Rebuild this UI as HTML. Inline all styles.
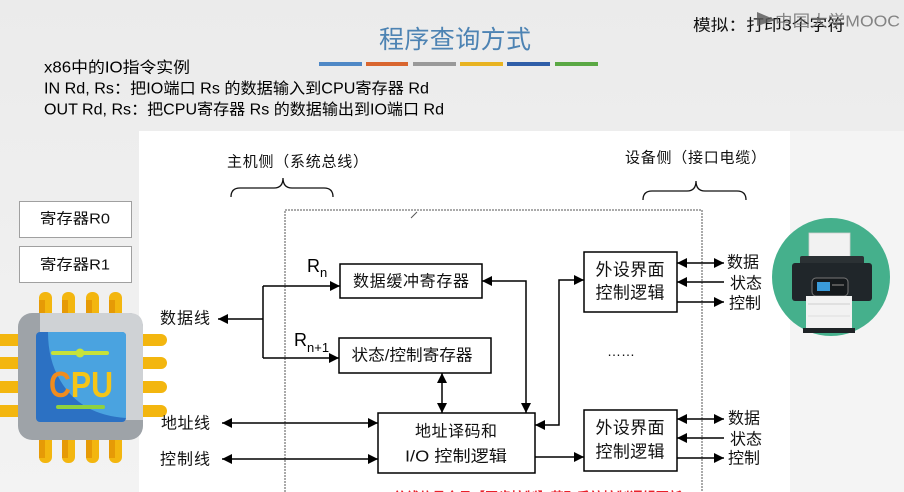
<!DOCTYPE html>
<html><head><meta charset="utf-8">
<style>
html,body{margin:0;padding:0;}
body{width:904px;height:492px;overflow:hidden;background:#eeeeee;}
svg{display:block;font-family:"Liberation Sans","Noto Sans CJK SC",sans-serif;}
</style></head>
<body>
<svg width="904" height="492" viewBox="0 0 904 492" xmlns="http://www.w3.org/2000/svg">
<defs>
<linearGradient id="bg" x1="0" y1="0" x2="0" y2="1">
<stop offset="0" stop-color="#ebebeb"/><stop offset="1" stop-color="#f3f3f3"/>
</linearGradient>
<marker id="ah" viewBox="0 0 10 10" refX="10" refY="5" markerWidth="11" markerHeight="10" markerUnits="userSpaceOnUse" orient="auto-start-reverse">
<path d="M0,0 L10,5 L0,10 z" fill="#000"/>
</marker>
</defs>
<rect x="0" y="0" width="904" height="492" fill="url(#bg)"/>
<rect x="790" y="131" width="114" height="361" fill="#f4f4f4"/>
<rect x="139" y="131" width="651" height="361" fill="#ffffff"/>

<!-- Title -->
<text x="455" y="40" font-size="25" fill="#4d83b3" text-anchor="middle" dominant-baseline="central" textLength="152">程序查询方式</text>
<rect x="319" y="62" width="43" height="4" fill="#4f88c6"/>
<rect x="366" y="62" width="42" height="4" fill="#d9662f"/>
<rect x="413" y="62" width="43" height="4" fill="#999999"/>
<rect x="460" y="62" width="43" height="4" fill="#e8b321"/>
<rect x="507" y="62" width="43" height="4" fill="#2f5ea8"/>
<rect x="555" y="62" width="43" height="4" fill="#5aa844"/>

<!-- watermark -->
<text x="693" y="26" font-size="16" fill="#111" dominant-baseline="central" textLength="152" lengthAdjust="spacingAndGlyphs">模拟：打印3个字符</text>
<path d="M757,12 L776,20 L757,26 z" fill="#555" opacity="0.8"/>
<text x="775" y="22" font-size="16" fill="#6a6a6a" opacity="0.8" dominant-baseline="central" textLength="125" lengthAdjust="spacingAndGlyphs">中国大学MOOC</text>

<!-- top-left text -->
<g font-size="15.5" fill="#000" dominant-baseline="central">
<text x="44" y="68" textLength="146" lengthAdjust="spacingAndGlyphs">x86中的IO指令实例</text>
<text x="44" y="89" textLength="385" lengthAdjust="spacingAndGlyphs">IN Rd, Rs：把IO端口 Rs 的数据输入到CPU寄存器 Rd</text>
<text x="44" y="110" textLength="400" lengthAdjust="spacingAndGlyphs">OUT Rd, Rs：把CPU寄存器 Rs 的数据输出到IO端口 Rd</text>
</g>

<!-- side labels -->
<g font-size="15" fill="#111" dominant-baseline="central">
<text x="227" y="162" textLength="141">主机侧（系统总线）</text>
<text x="625" y="158" textLength="141">设备侧（接口电缆）</text>
</g>
<path d="M231,197 Q231,188 240,188 L274,188 Q283,188 283,178 Q283,188 292,188 L324,188 Q333,188 333,197" fill="none" stroke="#111" stroke-width="1.3"/>
<path d="M643,200 Q643,191 652,191 L687,191 Q696,191 696,181 Q696,191 705,191 L737,191 Q746,191 746,200" fill="none" stroke="#111" stroke-width="1.3"/>

<!-- dashed box -->
<path d="M285,495 L285,210 L702,210 L702,495" fill="none" stroke="#555" stroke-width="1" stroke-dasharray="2,1"/>
<line x1="411" y1="218" x2="417" y2="212" stroke="#555" stroke-width="1"/>

<!-- register boxes -->
<rect x="19.5" y="201.5" width="112" height="36" fill="#fff" stroke="#a0a0a0" stroke-width="1"/>
<rect x="19.5" y="246.5" width="112" height="36" fill="#fff" stroke="#a0a0a0" stroke-width="1"/>
<g font-size="15" fill="#111" text-anchor="middle" dominant-baseline="central">
<text x="75" y="219" textLength="70" lengthAdjust="spacingAndGlyphs">寄存器R0</text>
<text x="75" y="265" textLength="70" lengthAdjust="spacingAndGlyphs">寄存器R1</text>
</g>

<!-- CPU -->
<g fill="#f3b60f">
<rect x="39" y="292" width="13" height="30" rx="6"/>
<rect x="62" y="292" width="13" height="30" rx="6"/>
<rect x="86" y="292" width="13" height="30" rx="6"/>
<rect x="109" y="292" width="13" height="30" rx="6"/>
<rect x="39" y="432" width="13" height="31" rx="6"/>
<rect x="62" y="432" width="13" height="31" rx="6"/>
<rect x="86" y="432" width="13" height="31" rx="6"/>
<rect x="109" y="432" width="13" height="31" rx="6"/>
<rect x="-6" y="334" width="30" height="12" rx="5"/>
<rect x="-6" y="357" width="30" height="12" rx="5"/>
<rect x="-6" y="381" width="30" height="12" rx="5"/>
<rect x="-6" y="405" width="30" height="12" rx="5"/>
<rect x="136" y="334" width="31" height="12" rx="6"/>
<rect x="136" y="357" width="31" height="12" rx="6"/>
<rect x="136" y="381" width="31" height="12" rx="6"/>
<rect x="136" y="405" width="31" height="12" rx="6"/>
</g>
<g fill="#e69a06">
<rect x="39" y="300" width="6" height="16"/><rect x="62" y="300" width="6" height="16"/><rect x="86" y="300" width="6" height="16"/><rect x="109" y="300" width="6" height="16"/>
<rect x="39" y="440" width="6" height="18"/><rect x="62" y="440" width="6" height="18"/><rect x="86" y="440" width="6" height="18"/><rect x="109" y="440" width="6" height="18"/>
</g>
<rect x="18" y="313" width="125" height="127" rx="14" fill="#9ea3a8"/>
<path d="M40,313 L129,313 Q143,313 143,327 L143,420 L40,420 z" fill="#cfd2d5"/>
<rect x="36" y="332" width="90" height="90" rx="4" fill="#2c71c3"/>
<path d="M48,332 L122,332 Q126,332 126,336 L126,418 Q80,415 60,380 Q48,360 48,332 z" fill="#4aa3e0"/>
<line x1="53" y1="353" x2="107" y2="353" stroke="#c6e23a" stroke-width="4" stroke-linecap="round"/>
<circle cx="80" cy="353" r="4.5" fill="#c6e23a"/>
<text x="81" y="384" font-size="36" font-weight="bold" text-anchor="middle" dominant-baseline="central" textLength="64" lengthAdjust="spacingAndGlyphs" font-family="Liberation Sans, sans-serif"><tspan fill="#f08c1e">C</tspan><tspan fill="#f5c518">PU</tspan></text>
<line x1="58" y1="407" x2="103" y2="407" stroke="#8fd13f" stroke-width="4" stroke-linecap="round"/>

<!-- bus labels -->
<g font-size="16" fill="#111" dominant-baseline="central">
<text x="160" y="319" textLength="50">数据线</text>
<text x="161" y="424" textLength="49">地址线</text>
<text x="160" y="460" textLength="50">控制线</text>
</g>

<!-- Rn labels -->
<text x="307" y="272" font-size="18" fill="#000">R<tspan font-size="13" dy="5">n</tspan></text>
<text x="294" y="346" font-size="18" fill="#000">R<tspan font-size="13" dy="6">n+1</tspan></text>

<!-- boxes -->
<g fill="#fff" stroke="#000" stroke-width="1.5">
<rect x="340" y="264" width="142" height="34"/>
<rect x="339" y="338" width="152" height="35"/>
<rect x="378" y="413" width="157" height="60"/>
<rect x="584" y="252" width="93" height="60"/>
<rect x="584" y="410" width="93" height="61"/>
</g>
<g font-size="16" fill="#111" text-anchor="middle" dominant-baseline="central">
<text x="411" y="282" textLength="116">数据缓冲寄存器</text>
<text x="412" y="356" textLength="121" lengthAdjust="spacingAndGlyphs">状态/控制寄存器</text>
<text x="456" y="432" textLength="82">地址译码和</text>
<text x="456" y="457" textLength="102" lengthAdjust="spacingAndGlyphs">I/O 控制逻辑</text>
<text x="630" y="270" font-size="17" textLength="69">外设界面</text>
<text x="630" y="293" font-size="17" textLength="69">控制逻辑</text>
<text x="630" y="428" font-size="17" textLength="69">外设界面</text>
<text x="630" y="452" font-size="17" textLength="69">控制逻辑</text>
</g>
<text x="607" y="356" font-size="14" fill="#111">……</text>

<!-- connectors -->
<g stroke="#000" stroke-width="1.5" fill="none">
<line x1="263" y1="319" x2="218" y2="319" marker-end="url(#ah)"/>
<line x1="263" y1="286" x2="263" y2="358"/>
<line x1="263" y1="286" x2="340" y2="286" marker-end="url(#ah)"/>
<line x1="263" y1="358" x2="339" y2="358" marker-end="url(#ah)"/>
<polyline points="482,281 526,281 526,413" marker-start="url(#ah)" marker-end="url(#ah)"/>
<line x1="442" y1="373" x2="442" y2="413" marker-start="url(#ah)" marker-end="url(#ah)"/>
<line x1="222" y1="423" x2="378" y2="423" marker-start="url(#ah)" marker-end="url(#ah)"/>
<line x1="222" y1="459" x2="378" y2="459" marker-start="url(#ah)" marker-end="url(#ah)"/>
<polyline points="535,425 559,425 559,280 584,280" marker-start="url(#ah)" marker-end="url(#ah)"/>
<line x1="535" y1="457" x2="584" y2="457" marker-end="url(#ah)"/>
<line x1="677" y1="263" x2="724" y2="263" marker-start="url(#ah)" marker-end="url(#ah)"/>
<line x1="724" y1="282" x2="677" y2="282" marker-end="url(#ah)"/>
<line x1="677" y1="302" x2="724" y2="302" marker-end="url(#ah)"/>
<line x1="677" y1="419" x2="724" y2="419" marker-start="url(#ah)" marker-end="url(#ah)"/>
<line x1="724" y1="438" x2="677" y2="438" marker-end="url(#ah)"/>
<line x1="677" y1="458" x2="724" y2="458" marker-end="url(#ah)"/>
</g>

<!-- right labels -->
<g font-size="16" fill="#111" dominant-baseline="central">
<text x="727" y="263" textLength="32">数据</text>
<text x="730" y="284" textLength="32">状态</text>
<text x="729" y="304" textLength="32">控制</text>
<text x="728" y="419" textLength="32">数据</text>
<text x="730" y="440" textLength="32">状态</text>
<text x="728" y="459" textLength="32">控制</text>
</g>

<!-- printer -->
<circle cx="831" cy="277" r="59" fill="#45b08c"/>
<rect x="809" y="233" width="41" height="32" fill="#f2f2f2" stroke="#cfcfcf" stroke-width="0.8"/>
<rect x="800" y="256" width="64" height="10" rx="2" fill="#2b3134"/>
<rect x="792" y="263" width="80" height="38" rx="3" fill="#20262a"/>
<rect x="812" y="278" width="36" height="18" rx="4" fill="#15191c" stroke="#777" stroke-width="1"/>
<rect x="817" y="282" width="13" height="9" fill="#3a9ad9"/>
<rect x="832" y="284" width="12" height="2" fill="#555"/>
<rect x="806" y="296" width="46" height="33" fill="#f2f2f2"/>
<line x1="808" y1="304" x2="850" y2="304" stroke="#cfcfcf" stroke-width="1"/>
<line x1="808" y1="316" x2="850" y2="316" stroke="#dedede" stroke-width="1"/>
<rect x="803" y="328" width="52" height="5" fill="#1e2326"/>

<!-- red text (cut off) -->
<text x="393" y="504" font-size="16" fill="#e8202a" font-weight="bold" textLength="289" lengthAdjust="spacingAndGlyphs">总线信号会员【同步控制】获取系统控制逻辑更新</text>
</svg>
</body></html>
